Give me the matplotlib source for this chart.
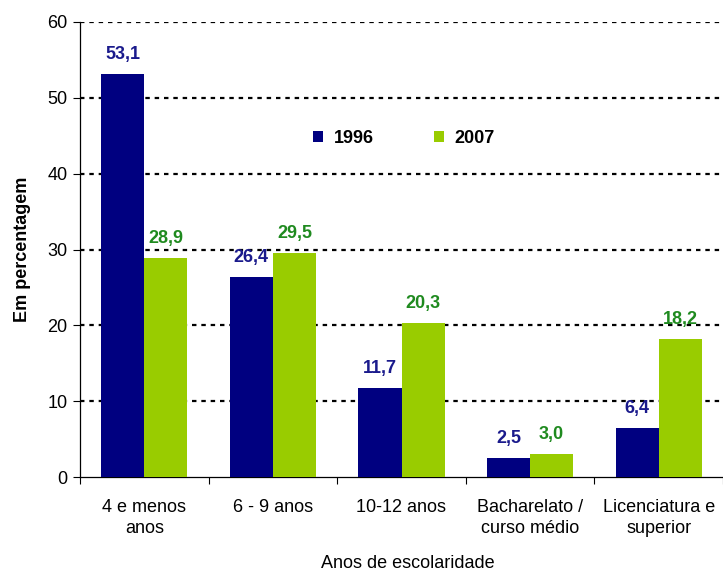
import matplotlib.pyplot as plt
import numpy as np

categorias = ['4 e menos\nanos', '6 - 9 anos', '10-12 anos', 'Bacharelato /\ncurso médio', 'Licenciatura e\nsuperior']
v1996 = [53.1, 26.4, 11.7, 2.5, 6.4]
v2007 = [28.9, 29.5, 20.3, 3.0, 18.2]
yticks = [0, 10, 20, 30, 40, 50, 60]

plt.rcParams['font.family'] = ['Liberation Sans', 'DejaVu Sans']
fs = 13

fig = plt.figure(figsize=(7.23, 5.72), dpi=100)
ax = fig.add_axes([80/723, 1-477/572, 643/723, 455/572])

x = np.arange(len(categorias))
w = 0.335
b1 = ax.bar(x - w/2, v1996, w, color='#000080', label='1996', zorder=3)
b2 = ax.bar(x + w/2, v2007, w, color='#99cc00', label='2007', zorder=3)

for rect, v in zip(b1, v1996):
    ax.annotate(f'{v:.1f}'.replace('.', ','), (rect.get_x() + rect.get_width()/2, v),
                xytext=(0, 8), textcoords='offset points', ha='center', va='bottom',
                fontsize=fs, fontweight='bold', color='#1a1a8c', zorder=4)
for rect, v in zip(b2, v2007):
    ax.annotate(f'{v:.1f}'.replace('.', ','), (rect.get_x() + rect.get_width()/2, v),
                xytext=(0, 8), textcoords='offset points', ha='center', va='bottom',
                fontsize=fs, fontweight='bold', color='#1f8a1f', zorder=4)

ax.set_ylim(0, 60)
ax.set_xlim(-0.5, 4.484)
ax.set_yticks(yticks)
ax.tick_params(axis='y', labelsize=fs, length=5, direction='out', pad=4)

ax.set_xticks(np.arange(len(categorias) + 1) - 0.5)
ax.set_xticklabels([])
ax.set_xticks(x, minor=True)
ax.set_xticklabels(categorias, minor=True, fontsize=fs, linespacing=1.3)
ax.tick_params(axis='x', which='major', length=5, direction='out')
ax.tick_params(axis='x', which='minor', length=0, pad=16)

for y in yticks[1:]:
    ax.axhline(y, color='black', lw=1.6, ls=(0, (2, 2.2)), zorder=1)

for s in ['top', 'right']:
    ax.spines[s].set_visible(False)
ax.spines['left'].set_linewidth(0.9)
ax.spines['bottom'].set_linewidth(0.9)

ax.set_ylabel('Em percentagem', fontsize=fs, fontweight='bold', labelpad=12)
fig.text(408/723, 1 - 568/572, 'Anos de escolaridade', fontsize=fs, ha='center', va='baseline')

leg = ax.legend(loc='center', bbox_to_anchor=(0.504, 0.745), ncol=2, frameon=False,
                handlelength=0.55, handleheight=0.55, columnspacing=3.3, handletextpad=0.6,
                prop={'weight': 'bold', 'size': fs})

fig.savefig('out.png', dpi=100)
